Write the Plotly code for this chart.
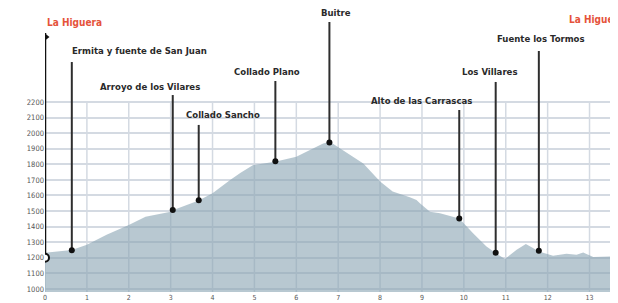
import plotly.graph_objects as go

# ---- data ----
profile_km = [0, 0.3, 0.64, 1.0, 1.47, 2.0, 2.4, 3.0, 3.05, 3.67, 4.0, 4.42, 4.67, 4.97,
              5.49, 6.0, 6.4, 6.64, 6.8, 7.04, 7.6, 8.0, 8.3, 8.71, 8.87, 8.95, 9.19,
              9.43, 9.89, 10.22, 10.54, 10.76, 10.98, 11.26, 11.48, 11.65, 11.79, 12.13,
              12.45, 12.69, 12.85, 13.09, 13.68]
profile_elev = [1232, 1240, 1250, 1283, 1347, 1411, 1464, 1496, 1505, 1567, 1614, 1699,
                1746, 1795, 1816, 1848, 1902, 1934, 1945, 1902, 1806, 1689, 1625, 1589,
                1571, 1550, 1496, 1486, 1452, 1358, 1272, 1230, 1192, 1251, 1288, 1262,
                1240, 1213, 1226, 1219, 1234, 1204, 1210]

stop_names = ["Ermita y fuente de San Juan", "Arroyo de los Vilares", "Collado Sancho",
              "Collado Plano", "Buitre", "Alto de las Carrascas", "Los Villares",
              "Fuente los Tormos"]
stop_km = [0.64, 3.05, 3.67, 5.5, 6.79, 9.89, 10.76, 11.79]
stop_elev = [1248, 1507, 1570, 1820, 1940, 1452, 1232, 1245]

start_name = "La Higuera"
start_km = 0
start_elev = 1200
end_km = 13.68
end_elev = 1210

y_ticks = list(range(1000, 2201, 100))
x_ticks = list(range(0, 14))

# ---- layout helpers (positions / styles) ----
stem_top = [2457, 2245, 2053, 2335, 2714, 2149, 2329, 2528]
label_x = [0.60, 2.51, 4.26, 5.30, 6.95, 9.0, 10.61, 11.84]
label_y = [2528, 2303, 2117, 2393, 2772, 2213, 2399, 2605]
label_anchor = ["left", "center", "center", "center", "center", "center", "center", "center"]
flag_top = 2643

FONT = "DejaVu Sans Condensed, Liberation Sans Narrow, sans-serif"

fig = go.Figure()

# elevation profile
fig.add_trace(go.Scatter(x=profile_km, y=profile_elev, mode="lines",
                         line=dict(width=0, color="rgba(137,163,178,0.6)"),
                         fill="tozeroy", fillcolor="rgba(137,163,178,0.6)",
                         hoverinfo="skip", showlegend=False))

# stems
for k, e, t in zip(stop_km, stop_elev, stem_top):
    fig.add_trace(go.Scatter(x=[k, k], y=[e, t], mode="lines",
                             line=dict(color="#2e2e2e", width=2),
                             showlegend=False, hoverinfo="skip"))
fig.add_trace(go.Scatter(x=stop_km, y=stop_elev, mode="markers",
                         marker=dict(color="#111", size=6),
                         showlegend=False, hoverinfo="skip"))

# start flag
fig.add_trace(go.Scatter(x=[start_km, start_km], y=[start_elev, flag_top], mode="lines",
                         line=dict(color="#111", width=2.5),
                         showlegend=False, hoverinfo="skip"))
fig.add_trace(go.Scatter(x=[start_km], y=[flag_top - 25], mode="markers",
                         marker=dict(symbol="triangle-right", color="#111", size=9),
                         showlegend=False, hoverinfo="skip"))
fig.add_trace(go.Scatter(x=[start_km], y=[start_elev], mode="markers",
                         marker=dict(symbol="circle", color="white", size=8,
                                     line=dict(color="#111", width=2)),
                         showlegend=False, hoverinfo="skip"))
# end
fig.add_trace(go.Scatter(x=[end_km, end_km], y=[end_elev, flag_top], mode="markers",
                         marker=dict(color="#111", size=6),
                         showlegend=False, hoverinfo="skip"))

annotations = []
for name, lx, ly, anc in zip(stop_names, label_x, label_y, label_anchor):
    annotations.append(dict(x=lx, y=ly, xref="x", yref="y", text=name, showarrow=False,
                            xanchor=anc, yanchor="middle",
                            font=dict(family=FONT, size=9.5, color="#2a2a2a", weight="bold")))
annotations.append(dict(x=start_km, y=2714, xref="x", yref="y", text=start_name,
                        showarrow=False, xanchor="left", yanchor="middle",
                        font=dict(family=FONT, size=10, color="#e5533b", weight="bold")))
annotations.append(dict(x=12.46, y=2727, xref="x", yref="y", text=start_name,
                        showarrow=False, xanchor="left", yanchor="middle",
                        font=dict(family=FONT, size=10, color="#e5533b", weight="bold")))

shapes = []
for k in x_ticks:
    shapes.append(dict(type="line", xref="x", yref="y", x0=k, x1=k, y0=980, y1=2200,
                       line=dict(color="#d4dae2", width=1.5), layer="below"))

# page body has an 8px default margin; figure is sized to fill the rest of the window
fig.update_layout(
    width=610, height=295,
    margin=dict(l=37, r=0, t=0, b=11, autoexpand=False),
    paper_bgcolor="white", plot_bgcolor="white",
    annotations=annotations, shapes=shapes,
    showlegend=False,
    xaxis=dict(range=[0, 13.68], tickvals=x_ticks, showgrid=False, zeroline=False,
               showline=False, ticks="", ticklen=0, automargin=False,
               tickfont=dict(family=FONT, size=7, color="#555")),
    yaxis=dict(range=[980, 2804], tickvals=y_ticks, showgrid=True, gridcolor="#d4dae2",
               gridwidth=1.5, zeroline=False, showline=False, ticks="", automargin=False,
               tickfont=dict(family=FONT, size=7.5, color="#555")),
)

fig.write_html("out.html")
